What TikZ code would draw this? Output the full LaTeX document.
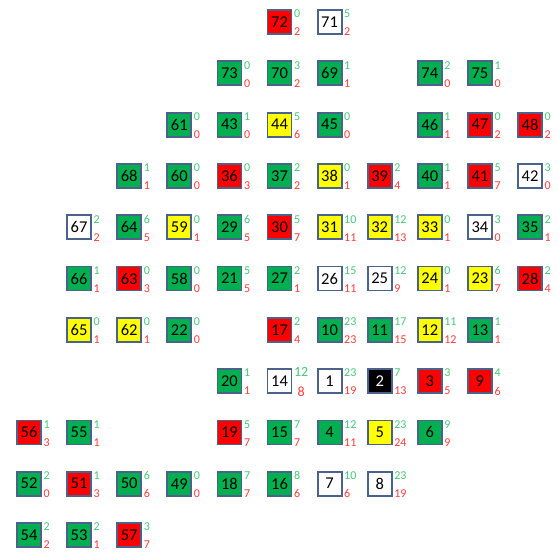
\documentclass[tikz,border=0pt]{standalone}
\usepackage{fontspec}
\setmainfont{Carlito}
\definecolor{edgec}{RGB}{75,98,140}
\definecolor{gfill}{RGB}{0,176,80}
\definecolor{rfill}{RGB}{255,0,0}
\definecolor{yfill}{RGB}{255,255,0}
\definecolor{topc}{RGB}{70,200,120}
\definecolor{botc}{RGB}{255,60,60}
\tikzset{
  cellbox/.style={draw=edgec, line width=1.8pt, minimum size=24pt, inner sep=0pt,
    font=\fontsize{16.5}{16.5}\selectfont},
  G/.style={cellbox, fill=gfill},
  R/.style={cellbox, fill=rfill},
  Y/.style={cellbox, fill=yfill},
  W/.style={cellbox, fill=white},
  K/.style={cellbox, fill=black, text=white},
  toplab/.style={anchor=west, inner sep=0pt, text=topc, font=\fontsize{12}{12}\selectfont},
  botlab/.style={anchor=west, inner sep=0pt, text=botc, font=\fontsize{12}{12}\selectfont},
}
\newcommand{\gcell}[6]{%
  \node[#4] (b#1) at ({29+50.1*#2},{22+51.3*#3}) {#1};
  \node[toplab] (t#1) at ([xshift=1.5pt,yshift=8pt]b#1.east) {#5};
  \node[botlab] (r#1) at ([xshift=1.5pt,yshift=-10pt]b#1.east) {#6};
}
\begin{document}
\begin{tikzpicture}[x=1pt,y=-1pt]
\fill[white] (0,0) rectangle (558,554);
\useasboundingbox (0,0) rectangle (558,554);
% row 0
\gcell{72}{5}{0}{R}{0}{2}
\gcell{71}{6}{0}{W}{5}{2}
% row 1
\gcell{73}{4}{1}{G}{0}{0}
\gcell{70}{5}{1}{G}{3}{2}
\gcell{69}{6}{1}{G}{1}{1}
\gcell{74}{8}{1}{G}{2}{0}
\gcell{75}{9}{1}{G}{1}{0}
% row 2
\gcell{61}{3}{2}{G}{0}{0}
\gcell{43}{4}{2}{G}{1}{0}
\gcell{44}{5}{2}{Y}{5}{6}
\gcell{45}{6}{2}{G}{0}{0}
\gcell{46}{8}{2}{G}{1}{1}
\gcell{47}{9}{2}{R}{0}{2}
\gcell{48}{10}{2}{R}{0}{2}
% row 3
\gcell{68}{2}{3}{G}{1}{1}
\gcell{60}{3}{3}{G}{0}{0}
\gcell{36}{4}{3}{R}{0}{3}
\gcell{37}{5}{3}{G}{2}{2}
\gcell{38}{6}{3}{Y}{0}{1}
\gcell{39}{7}{3}{R}{2}{4}
\gcell{40}{8}{3}{G}{1}{1}
\gcell{41}{9}{3}{R}{5}{7}
\gcell{42}{10}{3}{W}{3}{0}
% row 4
\gcell{67}{1}{4}{W}{2}{2}
\gcell{64}{2}{4}{G}{6}{5}
\gcell{59}{3}{4}{Y}{0}{1}
\gcell{29}{4}{4}{G}{6}{5}
\gcell{30}{5}{4}{R}{5}{7}
\gcell{31}{6}{4}{Y}{10}{11}
\gcell{32}{7}{4}{Y}{12}{13}
\gcell{33}{8}{4}{Y}{0}{1}
\gcell{34}{9}{4}{W}{3}{0}
\gcell{35}{10}{4}{G}{2}{1}
% row 5
\gcell{66}{1}{5}{G}{1}{1}
\gcell{63}{2}{5}{R}{0}{3}
\gcell{58}{3}{5}{G}{0}{0}
\gcell{21}{4}{5}{G}{5}{5}
\gcell{27}{5}{5}{G}{2}{1}
\gcell{26}{6}{5}{W}{15}{11}
\gcell{25}{7}{5}{W}{12}{9}
\gcell{24}{8}{5}{Y}{0}{1}
\gcell{23}{9}{5}{Y}{6}{7}
\gcell{28}{10}{5}{R}{2}{4}
% row 6
\gcell{65}{1}{6}{Y}{0}{1}
\gcell{62}{2}{6}{Y}{0}{1}
\gcell{22}{3}{6}{G}{0}{0}
\gcell{17}{5}{6}{R}{2}{4}
\gcell{10}{6}{6}{G}{23}{23}
\gcell{11}{7}{6}{G}{17}{15}
\gcell{12}{8}{6}{Y}{11}{12}
\gcell{13}{9}{6}{G}{1}{1}
% row 7
\gcell{20}{4}{7}{G}{1}{1}
\node[W] (b14) at ({29+50.1*5},{22+51.3*7}) {14};
\node[toplab, font=\fontsize{14}{14}\selectfont] (t14) at ([xshift=1.5pt,yshift=9pt]b14.east) {12};
\node[botlab, font=\fontsize{14}{14}\selectfont] (r14) at ([xshift=5pt,yshift=-11pt]b14.east) {8};
\gcell{1}{6}{7}{W}{23}{19}
\gcell{2}{7}{7}{K}{7}{13}
\gcell{3}{8}{7}{R}{3}{5}
\gcell{9}{9}{7}{R}{4}{6}
% row 8
\gcell{56}{0}{8}{R}{1}{3}
\gcell{55}{1}{8}{G}{1}{1}
\gcell{19}{4}{8}{R}{5}{7}
\gcell{15}{5}{8}{G}{7}{7}
\gcell{4}{6}{8}{G}{12}{11}
\gcell{5}{7}{8}{Y}{23}{24}
\gcell{6}{8}{8}{G}{9}{9}
% row 9
\gcell{52}{0}{9}{G}{2}{0}
\gcell{51}{1}{9}{R}{1}{3}
\gcell{50}{2}{9}{G}{6}{6}
\gcell{49}{3}{9}{G}{0}{0}
\gcell{18}{4}{9}{G}{7}{7}
\gcell{16}{5}{9}{G}{8}{6}
\gcell{7}{6}{9}{W}{10}{6}
\gcell{8}{7}{9}{W}{23}{19}
% row 10
\gcell{54}{0}{10}{G}{2}{2}
\gcell{53}{1}{10}{G}{2}{1}
\gcell{57}{2}{10}{R}{3}{7}
\end{tikzpicture}
\end{document}
